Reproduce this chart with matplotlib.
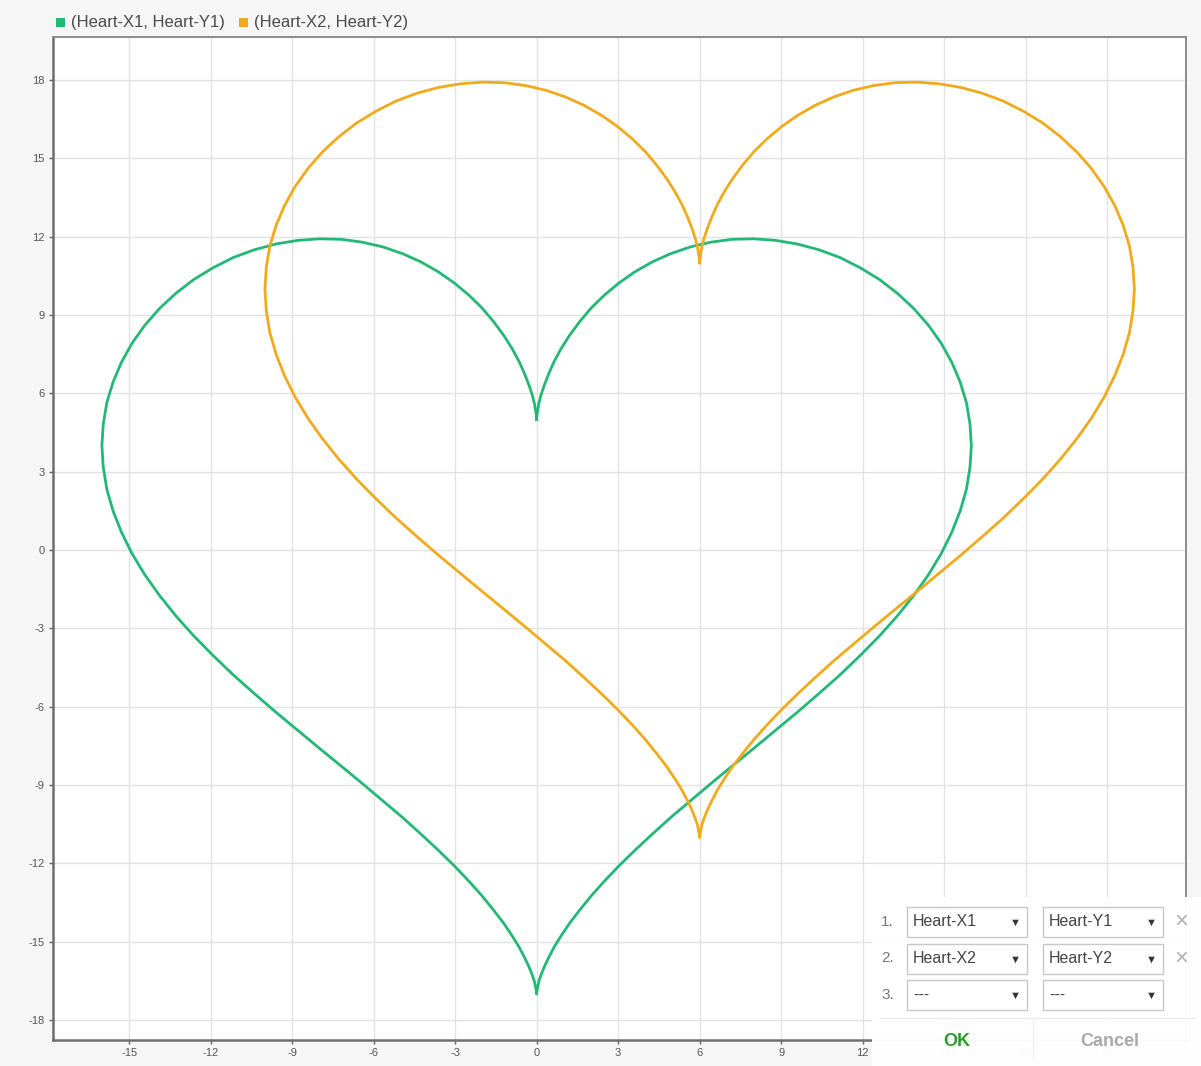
import matplotlib
matplotlib.use("Agg")
import matplotlib.pyplot as plt
from matplotlib.patches import Rectangle

plt.rcParams["font.family"] = ["Liberation Sans", "DejaVu Sans"]
plt.rcParams["axes.unicode_minus"] = False

# series 1: (Heart-X1, Heart-Y1)
heart_x1 = [0, 0.00, 0.01, 0.04, 0.08, 0.16, 0.28, 0.44, 0.64, 0.90, 1.21, 1.58, 2.00, 2.48, 3.02,
            3.61, 4.25, 4.93, 5.66, 6.41, 7.19, 7.99, 8.79, 9.60, 10.39, 11.17, 11.91, 12.62, 13.28,
            13.88, 14.42, 14.89, 15.28, 15.59, 15.82, 15.95, 16.00, 15.95, 15.82, 15.59, 15.28,
            14.89, 14.42, 13.88, 13.28, 12.62, 11.91, 11.17, 10.39, 9.60, 8.79, 7.99, 7.19, 6.41,
            5.66, 4.93, 4.25, 3.61, 3.02, 2.48, 2.00, 1.58, 1.21, 0.90, 0.64, 0.44, 0.28, 0.16,
            0.08, 0.04, 0.01, 0.00, 0,
            -0.00, -0.01, -0.04, -0.08, -0.16, -0.28, -0.44, -0.64, -0.90, -1.21, -1.58, -2.00,
            -2.48, -3.02, -3.61, -4.25, -4.93, -5.66, -6.41, -7.19, -7.99, -8.79, -9.60, -10.39,
            -11.17, -11.91, -12.62, -13.28, -13.88, -14.42, -14.89, -15.28, -15.59, -15.82, -15.95,
            -16.00, -15.95, -15.82, -15.59, -15.28, -14.89, -14.42, -13.88, -13.28, -12.62, -11.91,
            -11.17, -10.39, -9.60, -8.79, -7.99, -7.19, -6.41, -5.66, -4.93, -4.25, -3.61, -3.02,
            -2.48, -2.00, -1.58, -1.21, -0.90, -0.64, -0.44, -0.28, -0.16, -0.08, -0.04, -0.01,
            -0.00, 0]
heart_y1 = [5.00, 5.04, 5.15, 5.35, 5.61, 5.93, 6.31, 6.74, 7.21, 7.71, 8.22, 8.74, 9.26, 9.75,
            10.22, 10.65, 11.03, 11.35, 11.61, 11.79, 11.90, 11.92, 11.86, 11.72, 11.50, 11.20,
            10.81, 10.36, 9.83, 9.25, 8.61, 7.92, 7.19, 6.43, 5.64, 4.82, 4.00, 3.17, 2.33, 1.50,
            0.68, -0.14, -0.95, -1.74, -2.52, -3.29, -4.04, -4.78, -5.50, -6.21, -6.91, -7.60,
            -8.28, -8.95, -9.61, -10.25, -10.89, -11.51, -12.11, -12.70, -13.26, -13.80, -14.30,
            -14.78, -15.22, -15.62, -15.97, -16.28, -16.53, -16.74, -16.88, -16.97, -17.00,
            -16.97, -16.88, -16.74, -16.53, -16.28, -15.97, -15.62, -15.22, -14.78, -14.30, -13.80,
            -13.26, -12.70, -12.11, -11.51, -10.89, -10.25, -9.61, -8.95, -8.28, -7.60, -6.91,
            -6.21, -5.50, -4.78, -4.04, -3.29, -2.52, -1.74, -0.95, -0.14, 0.68, 1.50, 2.33, 3.17,
            4.00, 4.82, 5.64, 6.43, 7.19, 7.92, 8.61, 9.25, 9.83, 10.36, 10.81, 11.20, 11.50,
            11.72, 11.86, 11.92, 11.90, 11.79, 11.61, 11.35, 11.03, 10.65, 10.22, 9.75, 9.26, 8.74,
            8.22, 7.71, 7.21, 6.74, 6.31, 5.93, 5.61, 5.35, 5.15, 5.04, 5.00]

# series 2: (Heart-X2, Heart-Y2)
heart_x2 = [6, 6.00, 6.01, 6.04, 6.08, 6.16, 6.28, 6.44, 6.64, 6.90, 7.21, 7.58, 8.00, 8.48, 9.02,
            9.61, 10.25, 10.93, 11.66, 12.41, 13.19, 13.99, 14.79, 15.60, 16.39, 17.17, 17.91,
            18.62, 19.28, 19.88, 20.42, 20.89, 21.28, 21.59, 21.82, 21.95, 22.00, 21.95, 21.82,
            21.59, 21.28, 20.89, 20.42, 19.88, 19.28, 18.62, 17.91, 17.17, 16.39, 15.60, 14.79,
            13.99, 13.19, 12.41, 11.66, 10.93, 10.25, 9.61, 9.02, 8.48, 8.00, 7.58, 7.21, 6.90,
            6.64, 6.44, 6.28, 6.16, 6.08, 6.04, 6.01, 6.00, 6,
            6.00, 5.99, 5.96, 5.92, 5.84, 5.72, 5.56, 5.36, 5.10, 4.79, 4.42, 4.00, 3.52, 2.98,
            2.39, 1.75, 1.07, 0.34, -0.41, -1.19, -1.99, -2.79, -3.60, -4.39, -5.17, -5.91, -6.62,
            -7.28, -7.88, -8.42, -8.89, -9.28, -9.59, -9.82, -9.95, -10.00, -9.95, -9.82, -9.59,
            -9.28, -8.89, -8.42, -7.88, -7.28, -6.62, -5.91, -5.17, -4.39, -3.60, -2.79, -1.99,
            -1.19, -0.41, 0.34, 1.07, 1.75, 2.39, 2.98, 3.52, 4.00, 4.42, 4.79, 5.10, 5.36, 5.56,
            5.72, 5.84, 5.92, 5.96, 5.99, 6.00, 6]
heart_y2 = [11.00, 11.04, 11.15, 11.35, 11.61, 11.93, 12.31, 12.74, 13.21, 13.71, 14.22, 14.74,
            15.26, 15.75, 16.22, 16.65, 17.03, 17.35, 17.61, 17.79, 17.90, 17.92, 17.86, 17.72,
            17.50, 17.20, 16.81, 16.36, 15.83, 15.25, 14.61, 13.92, 13.19, 12.43, 11.64, 10.82,
            10.00, 9.17, 8.33, 7.50, 6.68, 5.86, 5.05, 4.26, 3.48, 2.71, 1.96, 1.22, 0.50, -0.21,
            -0.91, -1.60, -2.28, -2.95, -3.61, -4.25, -4.89, -5.51, -6.11, -6.70, -7.26, -7.80,
            -8.30, -8.78, -9.22, -9.62, -9.97, -10.28, -10.53, -10.74, -10.88, -10.97, -11.00,
            -10.97, -10.88, -10.74, -10.53, -10.28, -9.97, -9.62, -9.22, -8.78, -8.30, -7.80,
            -7.26, -6.70, -6.11, -5.51, -4.89, -4.25, -3.61, -2.95, -2.28, -1.60, -0.91, -0.21,
            0.50, 1.22, 1.96, 2.71, 3.48, 4.26, 5.05, 5.86, 6.68, 7.50, 8.33, 9.17, 10.00, 10.82,
            11.64, 12.43, 13.19, 13.92, 14.61, 15.25, 15.83, 16.36, 16.81, 17.20, 17.50, 17.72,
            17.86, 17.92, 17.90, 17.79, 17.61, 17.35, 17.03, 16.65, 16.22, 15.75, 15.26, 14.74,
            14.22, 13.71, 13.21, 12.74, 12.31, 11.93, 11.61, 11.35, 11.15, 11.04, 11.00]

series_labels = ["(Heart-X1, Heart-Y1)", "(Heart-X2, Heart-Y2)"]
x_ticks = [-15, -12, -9, -6, -3, 0, 3, 6, 9, 12, 15, 18, 21]
y_ticks = [-18, -15, -12, -9, -6, -3, 0, 3, 6, 9, 12, 15, 18]

# dropdown panel contents
panel_rows = [("1.", "Heart-X1", "Heart-Y1", True),
              ("2.", "Heart-X2", "Heart-Y2", True),
              ("3.", "---", "---", False)]

GREEN = "#24b877"
ORANGE = "#f0aa1c"
W, H = 1201, 1066

fig = plt.figure(figsize=(W / 100, H / 100), dpi=100, facecolor="#f6f6f6")
ax = fig.add_axes([53 / W, 1 - 1040 / H, (1186 - 53) / W, (1040 - 37) / H])
ax.set_facecolor("white")

ax.plot(heart_x1, heart_y1, color=GREEN, lw=2.0, solid_joinstyle="round", zorder=3)
ax.plot(heart_x2, heart_y2, color=ORANGE, lw=2.0, solid_joinstyle="round", zorder=3)

ax.set_xlim(-17.8, 23.9)
ax.set_ylim(-18.77, 19.65)
ax.set_xticks(x_ticks)
ax.set_yticks(y_ticks)
ax.grid(True, color="#e2e2e2", lw=1.0, zorder=0)
ax.tick_params(axis="both", length=3, width=1, color="#666666", labelsize=8,
               labelcolor="#555555", pad=3)
for name, sp in ax.spines.items():
    sp.set_color("#6e6e6e" if name in ("left", "bottom") else "#8a8a8a")
    sp.set_linewidth(1.8 if name in ("left", "bottom") else 1.4)

# legend across the top
lx = 56
for lab, col in zip(series_labels, [GREEN, ORANGE]):
    fig.add_artist(Rectangle((lx / W, 1 - 27 / H), 9 / W, 9 / H, transform=fig.transFigure,
                             facecolor=col, edgecolor="none"))
    t = fig.text((lx + 15) / W, 1 - 22 / H, lab, fontsize=12, color="#4a4a4a",
                 ha="left", va="center")
    fig.canvas.draw()
    bb = t.get_window_extent()
    lx = bb.x1 + 14

# overlay panel in the lower right corner
fig.add_artist(Rectangle((872 / W, 0), (W - 872) / W, (H - 897) / H, transform=fig.transFigure,
                         facecolor="white", edgecolor="none", alpha=0.97, zorder=5))
for i, (num, xa, ya, removable) in enumerate(panel_rows):
    yc = 922 + i * 36.5
    fig.text(894 / W, 1 - yc / H, num, fontsize=11, color="#777777", ha="right", va="center",
             zorder=7)
    for bx, txt in [(907, xa), (1043, ya)]:
        fig.add_artist(Rectangle((bx / W, 1 - (yc + 15) / H), 120 / W, 30 / H,
                                 transform=fig.transFigure, facecolor="white",
                                 edgecolor="#c8c8c8", lw=1, zorder=6))
        fig.text((bx + 6) / W, 1 - yc / H, txt, fontsize=11.5, color="#444444",
                 ha="left", va="center", zorder=7)
        fig.text((bx + 108) / W, 1 - (yc + 1) / H, "\u25bc", fontsize=8, color="#333333",
                 ha="center", va="center", zorder=7)
    if removable:
        fig.text(1181 / W, 1 - yc / H, "\u00d7", fontsize=17, color="#b0b0b0",
                 ha="center", va="center", zorder=7)
fig.add_artist(plt.Line2D([880 / W, 1195 / W], [1 - 1018 / H, 1 - 1018 / H],
                          transform=fig.transFigure, color="#ececec", lw=1, zorder=6))
fig.add_artist(plt.Line2D([1033 / W, 1033 / W], [1 - 1058 / H, 1 - 1020 / H],
                          transform=fig.transFigure, color="#f0f0f0", lw=1, zorder=6))
fig.text(957 / W, 1 - 1041 / H, "OK", fontsize=13, fontweight="bold", color="#2a9d2a",
         ha="center", va="center", zorder=7)
fig.text(1110 / W, 1 - 1041 / H, "Cancel", fontsize=13, fontweight="bold", color="#a8a8a8",
         ha="center", va="center", zorder=7)

fig.savefig("out.png", dpi=100, facecolor=fig.get_facecolor())
